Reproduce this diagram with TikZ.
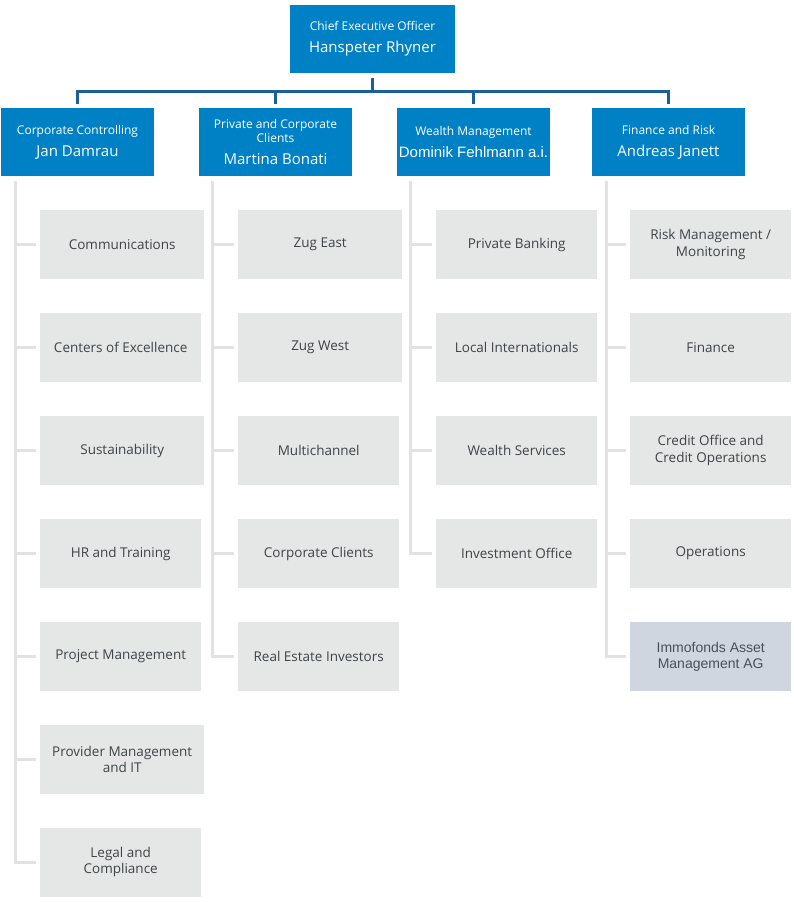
\documentclass[tikz,border=0pt]{standalone}
\usepackage{fontspec}
\setmainfont{Open Sans}
\newfontfamily\arialfont{Liberation Sans}
\usetikzlibrary{positioning}

\begin{document}
\begin{tikzpicture}[x=1pt, y=-1pt]
    \definecolor{headblue}{HTML}{0081C6}
\definecolor{lineblue}{HTML}{1A5E9E}
\definecolor{treegrey}{HTML}{E2E2E2}
\definecolor{subgrey}{HTML}{E5E6E6}
\definecolor{subtext}{HTML}{3D4548}
\definecolor{immogrey}{HTML}{CFD6E0}
\definecolor{immotext}{HTML}{4A5058}

\newcommand\boxh{68}
\newcommand\headw{153}
\newcommand\titlesize{\fontsize{12}{14}\selectfont}
\newcommand\namesize{\fontsize{15}{18}\selectfont}

\useasboundingbox (0, 0) rectangle (794, 902);

\tikzset{
    head/.style={
        fill=headblue, text=white, rectangle,
        minimum width=\headw, minimum height=\boxh,
        inner sep=0pt, align=center, font=\titlesize,
    },
    sub/.style={
        fill=subgrey, text=subtext, rectangle,
        minimum width=161, minimum height=69,
        inner sep=0pt, anchor=west, align=center,
        font=\fontsize{13.5}{16.5}\selectfont,
    },
    wide/.style={minimum width=164},
    boss line/.style={draw=lineblue, line width=3},
    tree line/.style={draw=treegrey, line width=3},
}

% top of the chart
\node[head, minimum width=165] at (372.5, 39) (ceo)
    {Chief Executive Officer\\[8pt] \namesize Hanspeter Rhyner};

\node[head] at (77.5, 142) (cc)
    {Corporate Controlling\\[8pt] \namesize Jan Damrau};
\node[head] at (275.5, 142) (pcc)
    {Private and Corporate\\Clients\\[8pt] \namesize Martina Bonati};
\node[head] at (473.5, 142) (wm)
    {Wealth Management\\[8pt] \namesize\arialfont Dominik Fehlmann a.i.};
\node[head] at (668.5, 142) (fr)
    {Finance and Risk\\[8pt] \namesize Andreas Janett};

\coordinate (bus) at (0, 91);
\draw[boss line, shorten <=5, shorten >=4] (ceo.south) -- (ceo.south |- bus) -| (cc.north);
\draw[boss line, shorten <=5, shorten >=4] (ceo.south) -- (ceo.south |- bus) -| (pcc.north);
\draw[boss line, shorten <=5, shorten >=4] (ceo.south) -- (ceo.south |- bus) -| (wm.north);
\draw[boss line, shorten <=5, shorten >=4] (ceo.south) -- (ceo.south |- bus) -| (fr.north);

% corporate controlling
\node[sub, wide] at (40, 244.5) (comm) {Communications};
\node[sub] at (40, 347.5) (coe) {Centers of Excellence};
\node[sub, wide] at (40, 450.5) (sust) {Sustainability};
\node[sub] at (40, 553.5) (hr) {HR and Training};
\node[sub] at (40, 656.5) (pm) {Project Management};
\node[sub, wide] at (40, 759.5) (prov) {Provider Management\\and IT};
\node[sub] at (40, 862) (legal) {Legal and\\Compliance};

% private and corporate clients
\node[sub, wide] at (238, 244.5) (zugeast) {Zug East};
\node[sub, wide] at (238, 347.5) (zugwest) {Zug West};
\node[sub] at (238, 450.5) (multi) {Multichannel};
\node[sub] at (238, 553.5) (corp) {Corporate Clients};
\node[sub] at (238, 656.5) (rei) {Real Estate Investors};

% wealth management
\node[sub] at (436, 244.5) (pb) {Private Banking};
\node[sub] at (436, 347.5) (locint) {Local Internationals};
\node[sub] at (436, 450.5) (ws) {Wealth Services};
\node[sub] at (436, 553.5) (invest) {Investment Office};

% finance and risk
\node[sub] at (630, 244.5) (risk) {Risk Management /\\Monitoring};
\node[sub] at (630, 347.5) (fin) {Finance};
\node[sub] at (630, 450.5) (credit) {Credit Office and\\Credit Operations};
\node[sub] at (630, 553.5) (ops) {Operations};
\node[sub, fill=immogrey, text=immotext, font=\arialfont\fontsize{14}{16}\selectfont]
    at (630, 656.5) (immo) {Immofonds Asset\\Management AG};

\coordinate (cc-top) at (15, 181);
\coordinate (pcc-top) at (212, 181);
\coordinate (wm-top) at (410, 181);
\coordinate (fr-top) at (606, 181);

\draw[tree line] (cc-top) |- ([xshift=-4]comm.west);
\draw[tree line] (cc-top) |- ([xshift=-4]coe.west);
\draw[tree line] (cc-top) |- ([xshift=-4]sust.west);
\draw[tree line] (cc-top) |- ([xshift=-4]hr.west);
\draw[tree line] (cc-top) |- ([xshift=-4]pm.west);
\draw[tree line] (cc-top) |- ([xshift=-4]prov.west);
\draw[tree line] (cc-top) |- ([xshift=-4]legal.west);

\draw[tree line] (pcc-top) |- ([xshift=-4]zugeast.west);
\draw[tree line] (pcc-top) |- ([xshift=-4]zugwest.west);
\draw[tree line] (pcc-top) |- ([xshift=-4]multi.west);
\draw[tree line] (pcc-top) |- ([xshift=-4]corp.west);
\draw[tree line] (pcc-top) |- ([xshift=-4]rei.west);

\draw[tree line] (wm-top) |- ([xshift=-4]pb.west);
\draw[tree line] (wm-top) |- ([xshift=-4]locint.west);
\draw[tree line] (wm-top) |- ([xshift=-4]ws.west);
\draw[tree line] (wm-top) |- ([xshift=-4]invest.west);

\draw[tree line] (fr-top) |- ([xshift=-4]risk.west);
\draw[tree line] (fr-top) |- ([xshift=-4]fin.west);
\draw[tree line] (fr-top) |- ([xshift=-4]credit.west);
\draw[tree line] (fr-top) |- ([xshift=-4]ops.west);
\draw[tree line] (fr-top) |- ([xshift=-4]immo.west);
\end{tikzpicture}
\end{document}
